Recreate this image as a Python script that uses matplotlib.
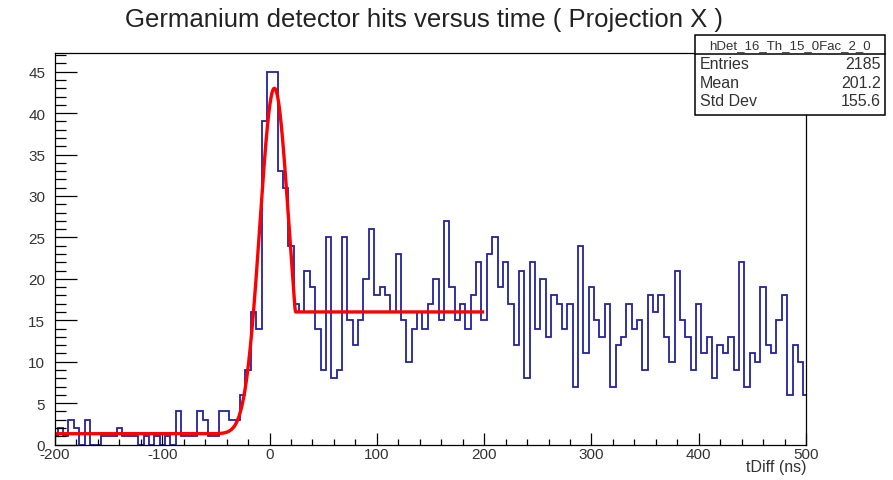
import numpy as np
import matplotlib
matplotlib.use("Agg")
import matplotlib.pyplot as plt
from matplotlib.patches import Rectangle
from matplotlib.lines import Line2D
from matplotlib.ticker import MultipleLocator

plt.rcParams['font.family'] = ['Liberation Sans', 'DejaVu Sans']

# histogram: 5 ns bins centred on multiples of 5, -200 .. 500
bin_lo, bin_hi, bin_w = -202.5, 502.5, 5.0
counts = [
    1, 2, 1, 3, 2, 0, 3, 0, 0, 1,          # -200 .. -155
    1, 1, 2, 1, 1, 1, 0, 1, 0, 1,          # -150 .. -105
    0, 1, 0, 4, 1, 1, 1, 4, 3, 1,          # -100 .. -55
    1, 4, 4, 3, 3, 6, 9, 16, 14, 39,       # -50 .. -5
    45, 45, 33, 31, 24, 17, 16, 21, 19, 14,   # 0 .. 45
    9, 25, 8, 9, 25, 15, 12, 15, 20, 26,      # 50 .. 95
    18, 19, 18, 16, 23, 15, 10, 14, 16, 14,   # 100 .. 145
    17, 20, 15, 27, 19, 15, 17, 14, 18, 22,   # 150 .. 195
    15, 23, 25, 19, 22, 17, 12, 21, 8, 22,    # 200 .. 245
    14, 20, 13, 18, 17, 14, 17, 7, 24, 11,    # 250 .. 295
    19, 15, 13, 17, 7, 12, 13, 17, 14, 15,    # 300 .. 345
    9, 18, 16, 18, 13, 10, 21, 15, 13, 9,     # 350 .. 395
    17, 11, 13, 8, 12, 11, 13, 9, 22, 7,      # 400 .. 445
    11, 10, 19, 12, 11, 15, 18, 6, 12, 10,    # 450 .. 495
    6,                                        # 500
]

# fit: gaussian on a flat baseline, then a plateau after the peak
fit_base = 1.3
fit_amp = 41.7
fit_mean = 4.5
fit_sigma = 13.5
fit_plateau = 16.0
fit_range = (-200, 200)

hist_name = "hDet_16_Th_15_0Fac_2_0"
stat_labels = ["Entries", "Mean", "Std Dev"]
stat_values = ["2185", "201.2", "155.6"]

W, H = 893, 481
fig = plt.figure(figsize=(W / 100, H / 100), dpi=100)
fig.patch.set_facecolor('white')

def fx(x):
    return x / W

def fy(y):
    return 1 - y / H

ax = fig.add_axes([fx(55), fy(445.5), fx(806) - fx(55), fy(54) - fy(445.5)])

edges = np.arange(bin_lo, bin_hi + 0.1, bin_w)
ax.stairs(counts, edges, color='#22229f', linewidth=1.3, baseline=None)
ax.plot([edges[0], edges[0]], [0, counts[0]], color='#22229f', lw=1.3)

xf = np.linspace(fit_range[0], fit_range[1], 800)
g = fit_base + fit_amp * np.exp(-0.5 * ((xf - fit_mean) / fit_sigma) ** 2)
yf = np.where(xf < fit_mean, g, np.maximum(g, fit_plateau))
ax.plot(xf, yf, color='#ff0000', linewidth=2.4, solid_capstyle='butt')

ax.xaxis.set_major_locator(MultipleLocator(100))
ax.xaxis.set_minor_locator(MultipleLocator(20))
ax.yaxis.set_major_locator(MultipleLocator(5))
ax.yaxis.set_minor_locator(MultipleLocator(1))

ax.tick_params(axis='x', which='major', direction='in', length=8.6, width=0.9,
               labelsize=11, pad=2, top=False, labelcolor='#333333')
ax.tick_params(axis='x', which='minor', direction='in', length=4.3, width=0.9, top=False)
ax.tick_params(axis='y', which='major', direction='in', length=15.8, width=0.9,
               labelsize=11, pad=7, right=False, labelcolor='#333333')
ax.tick_params(axis='y', which='minor', direction='in', length=7.9, width=0.9, right=False)
ax.set_xlim(-200, 500)
ax.set_ylim(0, 47.25)
ax.set_xticks([-200, -100, 0, 100, 200, 300, 400, 500])
ax.set_xticklabels(["-200", "-100", "0", "100", "200", "300", "400", "500"])
ax.set_yticks([0, 5, 10, 15, 20, 25, 30, 35, 40, 45])
ax.set_yticklabels(["0", "5", "10", "15", "20", "25", "30", "35", "40", "45"])
ax.set_xlim(-200, 500)
ax.set_ylim(0, 47.25)
for s in ax.spines.values():
    s.set_linewidth(0.9)

fig.text(fx(806), fy(468), "tDiff (ns)", ha='right', va='center', fontsize=11.5,
         color='#333333')

fig.text(fx(424), fy(20), "Germanium detector hits versus time ( Projection X )",
         ha='center', va='center', fontsize=18.5, color='#222222')

# stats box
bx0, by0, bx1, by1 = 695, 36, 885, 116
fig.patches.append(Rectangle((fx(bx0), fy(by1)), fx(bx1) - fx(bx0), fy(by0) - fy(by1),
                             transform=fig.transFigure, facecolor='white',
                             edgecolor='black', linewidth=1.1, zorder=5))
fig.lines.append(Line2D([fx(bx0), fx(bx1)], [fy(55), fy(55)],
                        transform=fig.transFigure, color='black', lw=1.1, zorder=6))
fig.text(fx((bx0 + bx1) / 2), fy(46), hist_name, ha='center', va='center',
         fontsize=9.5, zorder=7, color='#333333')
for i, (lab, val) in enumerate(zip(stat_labels, stat_values)):
    yy = fy(65 + i * 18.5)
    fig.text(fx(700), yy, lab, ha='left', va='center', fontsize=11.5, zorder=7,
             color='#333333')
    fig.text(fx(881), yy, val, ha='right', va='center', fontsize=11.5, zorder=7,
             color='#333333')

fig.savefig("out.png", dpi=100, facecolor='white')
